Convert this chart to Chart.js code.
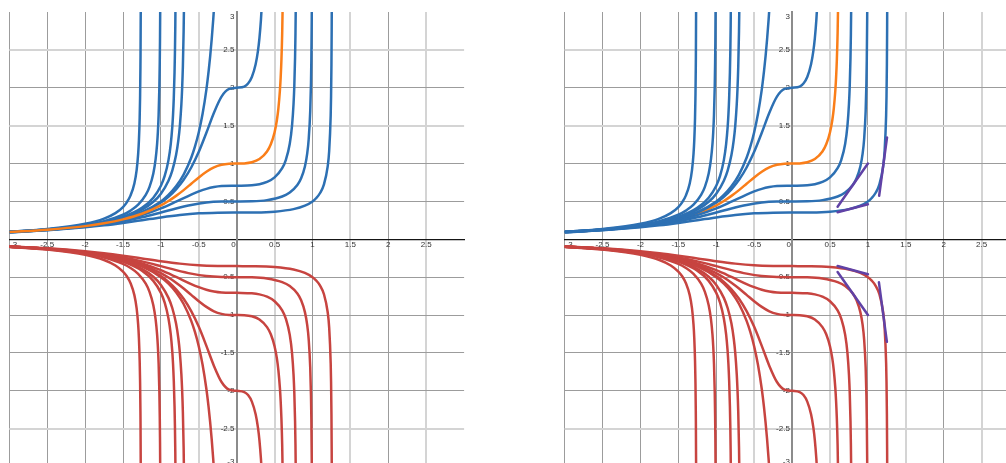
<!DOCTYPE html>
<html>
<head>
<meta charset="utf-8">
<script src="https://cdn.jsdelivr.net/npm/chart.js@4.4.1/dist/chart.umd.min.js"></script>
<style>
html, body { margin: 0; padding: 0; width: 1006px; height: 463px; overflow: hidden; background: #fff; }
.panel { position: absolute; top: 0; width: 480px; height: 480px; }
#leftPanel { left: 0; }
#rightPanel { left: 554px; }
</style>
</head>
<body>
<div class="panel" id="leftPanel"><canvas id="leftChart" width="480" height="480"></canvas></div>
<div class="panel" id="rightPanel"><canvas id="rightChart" width="480" height="480"></canvas></div>
<script>
// solution curves (upper family, y > 0)
var xA = [-3, -2.5, -2, -1.75, -1.6, -1.5, -1.45, -1.4, -1.35, -1.32, -1.3, -1.29, -1.28, -1.275, -1.27, -1.265, -1.262];
var yA = [0.100, 0.136, 0.204, 0.273, 0.345, 0.426, 0.488, 0.580, 0.737, 0.913, 1.127, 1.306, 1.603, 1.855, 2.276, 3.21, 5.02];
var xB = [-3, -2.5, -2, -1.75, -1.5, -1.4, -1.3, -1.2, -1.15, -1.1, -1.07, -1.05, -1.04, -1.03, -1.02, -1.015, -1.012, -1.008, -1.005];
var yB = [0.098, 0.131, 0.189, 0.240, 0.324, 0.379, 0.457, 0.586, 0.693, 0.869, 1.054, 1.259, 1.415, 1.642, 2.021, 2.339, 2.62, 3.21, 4.07];
var xC = [-3, -2.5, -2, -1.75, -1.5, -1.25, -1.1, -1, -0.95, -0.9, -0.87, -0.85, -0.84, -0.83, -0.82, -0.815, -0.81, -0.805, -0.802];
var yC = [0.097, 0.129, 0.183, 0.227, 0.295, 0.415, 0.549, 0.707, 0.836, 1.045, 1.256, 1.480, 1.642, 1.867, 2.206, 2.459, 2.82, 3.40, 3.97];
var xD = [-3, -2.5, -2, -1.75, -1.5, -1.25, -1.1, -1, -0.9, -0.85, -0.8, -0.77, -0.75, -0.73, -0.72, -0.71, -0.7, -0.695, -0.692, -0.689];
var yD = [0.097, 0.128, 0.180, 0.223, 0.286, 0.390, 0.495, 0.602, 0.773, 0.907, 1.112, 1.306, 1.495, 1.779, 1.988, 2.285, 2.752, 3.12, 3.42, 3.83];
var xE = [-3, -2.5, -2, -1.75, -1.5, -1.25, -1, -0.9, -0.8, -0.7, -0.6, -0.55, -0.5, -0.45, -0.4, -0.37, -0.35, -0.33, -0.31, -0.3, -0.28, -0.26];
var yE = [0.096, 0.127, 0.177, 0.216, 0.272, 0.358, 0.500, 0.586, 0.699, 0.854, 1.076, 1.226, 1.414, 1.656, 1.976, 2.222, 2.415, 2.638, 2.897, 3.043, 3.375, 3.77];
var xF = [-3, -2.5, -2, -1.75, -1.5, -1.25, -1, -0.9, -0.8, -0.7, -0.6, -0.5, -0.4, -0.3, -0.2, -0.1, 0, 0.1, 0.15, 0.2, 0.25, 0.28, 0.3, 0.32, 0.33, 0.34, 0.35];
var yF = [0.096, 0.126, 0.176, 0.215, 0.270, 0.352, 0.485, 0.562, 0.660, 0.785, 0.948, 1.155, 1.406, 1.671, 1.883, 1.984, 2.000, 2.016, 2.056, 2.142, 2.309, 2.483, 2.654, 2.900, 3.068, 3.283, 3.569];
var xG = [-3, -2.5, -2, -1.75, -1.5, -1.25, -1, -0.9, -0.8, -0.7, -0.6, -0.5, -0.4, -0.3, -0.2, -0.1, 0, 0.1, 0.2, 0.3, 0.4, 0.45, 0.5, 0.53, 0.55, 0.57, 0.58, 0.59, 0.6, 0.61, 0.615];
var yG = [0.096, 0.126, 0.174, 0.211, 0.263, 0.337, 0.447, 0.505, 0.573, 0.649, 0.733, 0.817, 0.892, 0.950, 0.984, 0.998, 1.000, 1.002, 1.016, 1.059, 1.159, 1.254, 1.414, 1.572, 1.729, 1.964, 2.134, 2.367, 2.712, 3.295, 3.79];
var xH = [-3, -2.5, -2, -1.75, -1.5, -1.25, -1, -0.8, -0.6, -0.5, -0.4, -0.3, -0.2, 0, 0.2, 0.3, 0.4, 0.5, 0.6, 0.65, 0.7, 0.73, 0.75, 0.76, 0.77, 0.775, 0.78, 0.785];
var yH = [0.095, 0.125, 0.172, 0.207, 0.254, 0.319, 0.408, 0.497, 0.591, 0.632, 0.666, 0.689, 0.702, 0.707, 0.713, 0.727, 0.757, 0.817, 0.938, 1.053, 1.262, 1.501, 1.789, 2.024, 2.398, 2.691, 3.134, 3.92];
var xI = [-3, -2.5, -2, -1.75, -1.5, -1.25, -1, -0.8, -0.6, -0.4, -0.2, 0, 0.2, 0.4, 0.6, 0.7, 0.8, 0.85, 0.9, 0.93, 0.95, 0.97, 0.98, 0.985, 0.99, 0.993, 0.995];
var yI = [0.095, 0.123, 0.167, 0.198, 0.239, 0.291, 0.354, 0.407, 0.453, 0.485, 0.498, 0.500, 0.502, 0.517, 0.565, 0.617, 0.716, 0.805, 0.961, 1.130, 1.324, 1.692, 2.062, 2.375, 2.901, 3.462, 4.09];
var xJ = [-3, -2.5, -2, -1.75, -1.5, -1.25, -1, -0.75, -0.5, -0.25, 0, 0.25, 0.5, 0.75, 0.9, 1, 1.05, 1.1, 1.15, 1.2, 1.22, 1.24, 1.245, 1.25, 1.253, 1.255, 1.257];
var yJ = [0.093, 0.119, 0.158, 0.184, 0.216, 0.252, 0.289, 0.321, 0.343, 0.352, 0.354, 0.355, 0.365, 0.398, 0.444, 0.500, 0.545, 0.611, 0.722, 0.959, 1.165, 1.636, 1.887, 2.309, 2.762, 3.272, 4.24];

// lower family (y < 0), same x positions
var rA = [-0.100, -0.136, -0.204, -0.273, -0.345, -0.426, -0.488, -0.580, -0.737, -0.913, -1.127, -1.306, -1.603, -1.855, -2.276, -3.21, -5.02];
var rB = [-0.098, -0.131, -0.189, -0.240, -0.324, -0.379, -0.457, -0.586, -0.693, -0.869, -1.054, -1.259, -1.415, -1.642, -2.021, -2.339, -2.62, -3.21, -4.07];
var rC = [-0.097, -0.129, -0.183, -0.227, -0.295, -0.415, -0.549, -0.707, -0.836, -1.045, -1.256, -1.480, -1.642, -1.867, -2.206, -2.459, -2.82, -3.40, -3.97];
var rD = [-0.097, -0.128, -0.180, -0.223, -0.286, -0.390, -0.495, -0.602, -0.773, -0.907, -1.112, -1.306, -1.495, -1.779, -1.988, -2.285, -2.752, -3.12, -3.42, -3.83];
var rE = [-0.096, -0.127, -0.177, -0.216, -0.272, -0.358, -0.500, -0.586, -0.699, -0.854, -1.076, -1.226, -1.414, -1.656, -1.976, -2.222, -2.415, -2.638, -2.897, -3.043, -3.375, -3.77];
var rF = [-0.096, -0.126, -0.176, -0.215, -0.270, -0.352, -0.485, -0.562, -0.660, -0.785, -0.948, -1.155, -1.406, -1.671, -1.883, -1.984, -2.000, -2.016, -2.056, -2.142, -2.309, -2.483, -2.654, -2.900, -3.068, -3.283, -3.569];
var rG = [-0.096, -0.126, -0.174, -0.211, -0.263, -0.337, -0.447, -0.505, -0.573, -0.649, -0.733, -0.817, -0.892, -0.950, -0.984, -0.998, -1.000, -1.002, -1.016, -1.059, -1.159, -1.254, -1.414, -1.572, -1.729, -1.964, -2.134, -2.367, -2.712, -3.295, -3.79];
var rH = [-0.095, -0.125, -0.172, -0.207, -0.254, -0.319, -0.408, -0.497, -0.591, -0.632, -0.666, -0.689, -0.702, -0.707, -0.713, -0.727, -0.757, -0.817, -0.938, -1.053, -1.262, -1.501, -1.789, -2.024, -2.398, -2.691, -3.134, -3.92];
var rI = [-0.095, -0.123, -0.167, -0.198, -0.239, -0.291, -0.354, -0.407, -0.453, -0.485, -0.498, -0.500, -0.502, -0.517, -0.565, -0.617, -0.716, -0.805, -0.961, -1.130, -1.324, -1.692, -2.062, -2.375, -2.901, -3.462, -4.09];
var rJ = [-0.093, -0.119, -0.158, -0.184, -0.216, -0.252, -0.289, -0.321, -0.343, -0.352, -0.354, -0.355, -0.365, -0.398, -0.444, -0.500, -0.545, -0.611, -0.722, -0.959, -1.165, -1.636, -1.887, -2.309, -2.762, -3.272, -4.24];

// straight purple segments in the right panel (start, end)
var segX = [[0.6, 1.0], [0.6, 1.0], [1.148, 1.252], [0.6, 1.0], [0.6, 1.0], [1.145, 1.25]];
var segY = [[0.43, 1.0], [0.358, 0.462], [0.575, 1.345], [-0.353, -0.462], [-0.432, -1.0], [-0.568, -1.353]];

// tick labels
var xTicks = [-3, -2.5, -2, -1.5, -1, -0.5, 0, 0.5, 1, 1.5, 2, 2.5];
var yTicks = [3, 2.5, 2, 1.5, 1, 0.5, -0.5, -1, -1.5, -2, -2.5, -3];
var lightX = [-0.5, 0.5, 1.5, 2.5];
var lightY = [2.5, 1.5, -2.5];

var BLUE = '#2d70b3', ORANGE = '#fa7e19', RED = '#c74440', PURPLE = '#6042a6';

function pts(xs, ys) {
    var out = [];
    for (var i = 0; i < xs.length; i++) out.push({x: xs[i], y: ys[i]});
    return out;
}

function curve(xs, ys, color, order) {
    return {
        data: pts(xs, ys),
        borderColor: color,
        borderWidth: 2.5,
        showLine: true,
        pointRadius: 0,
        cubicInterpolationMode: 'monotone',
        clip: 0,
        order: order
    };
}

function fmt(v) { return String(Math.round(v * 10) / 10); }

function xLabel(v) {
    if (xTicks.indexOf(v) < 0) return '';
    if (v === -3) return '    -3';
    if (v === 0) return '0   ';
    return fmt(v);
}

function yLabel(v) {
    if (yTicks.indexOf(v) < 0) return '';
    if (v === 3) return ['', '3 '];
    if (v === -3) return ['-3 ', ''];
    return fmt(v) + ' ';
}

function gridColor(light, hidden) {
    return function (ctx) {
        var v = ctx.tick ? ctx.tick.value : null;
        if (v === hidden) return 'rgba(0,0,0,0)';
        return light.indexOf(v) >= 0 ? '#d4d4d4' : '#9c9c9c';
    };
}

function gridWidth(light) {
    return function (ctx) {
        return (ctx.tick && light.indexOf(ctx.tick.value) >= 0) ? 2 : 1;
    };
}

function noSize(scale) {
    scale.width = scale.isHorizontal() ? scale.width : 0;
    scale.height = scale.isHorizontal() ? 0 : scale.height;
    scale.paddingLeft = scale.paddingRight = scale.paddingTop = scale.paddingBottom = 0;
}

var tickFont = {family: '"Liberation Sans", Arial, sans-serif', size: 8};

function options(padLeft, padRight) {
    return {
        responsive: false,
        animation: false,
        devicePixelRatio: 1,
        layout: {padding: {left: padLeft, right: padRight, top: 12, bottom: 13.4}},
        plugins: {legend: {display: false}, tooltip: {enabled: false}},
        scales: {
            x: {
                type: 'linear', min: -3, max: 3,
                position: {y: 0},
                afterFit: noSize,
                ticks: {stepSize: 0.5, autoSkip: false, maxRotation: 0, padding: 0.5, font: tickFont, color: '#333', callback: xLabel},
                grid: {drawTicks: false, color: gridColor(lightX, 3), lineWidth: gridWidth(lightX)},
                border: {color: '#151515', width: 1.3}
            },
            y: {
                type: 'linear', min: -3, max: 3,
                position: {x: 0},
                afterFit: noSize,
                ticks: {stepSize: 0.5, autoSkip: false, font: tickFont, color: '#333', callback: yLabel},
                grid: {drawTicks: false, color: gridColor(lightY, 3), lineWidth: gridWidth(lightY)},
                border: {color: '#8c8c8c', width: 2}
            }
        }
    };
}

function family(blueOrder, orangeOrder) {
    return [
        curve(xA, yA, BLUE, blueOrder), curve(xB, yB, BLUE, blueOrder), curve(xC, yC, BLUE, blueOrder),
        curve(xD, yD, BLUE, blueOrder), curve(xE, yE, BLUE, blueOrder), curve(xF, yF, BLUE, blueOrder),
        curve(xG, yG, ORANGE, orangeOrder),
        curve(xH, yH, BLUE, blueOrder), curve(xI, yI, BLUE, blueOrder), curve(xJ, yJ, BLUE, blueOrder),
        curve(xA, rA, RED, 1), curve(xB, rB, RED, 1), curve(xC, rC, RED, 1), curve(xD, rD, RED, 1),
        curve(xE, rE, RED, 1), curve(xF, rF, RED, 1), curve(xG, rG, RED, 1), curve(xH, rH, RED, 1),
        curve(xI, rI, RED, 1), curve(xJ, rJ, RED, 1)
    ];
}

// left: orange drawn over the blue curves
new Chart(document.getElementById('leftChart'), {
    type: 'scatter',
    data: {datasets: family(2, 1)},
    options: options(9.3, 15.9)
});

// right: blue over orange, purple segments on top
var rightSets = family(2, 3);
for (var i = 0; i < segX.length; i++) {
    var s = curve(segX[i], segY[i], PURPLE, 0);
    s.cubicInterpolationMode = 'default';
    s.borderCapStyle = 'round';
    rightSets.push(s);
}
new Chart(document.getElementById('rightChart'), {
    type: 'scatter',
    data: {datasets: rightSets},
    options: options(10.6, 14.4)
});
</script>
</body>
</html>
